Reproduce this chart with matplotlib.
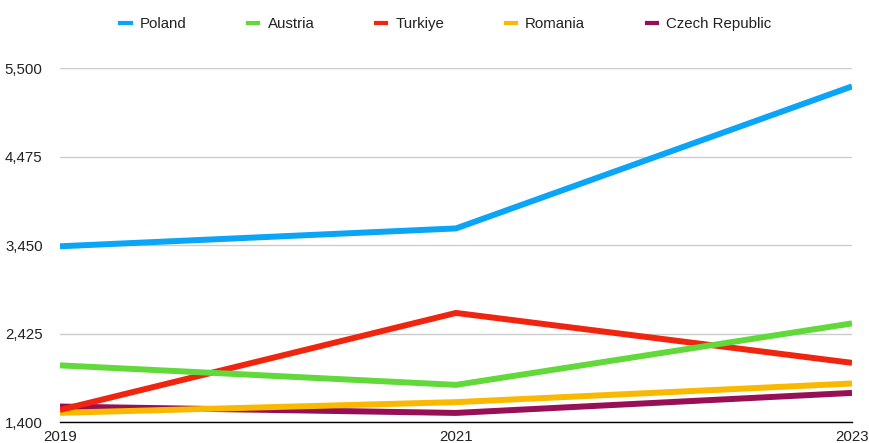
import matplotlib
matplotlib.use("Agg")
import matplotlib.pyplot as plt

plt.rcParams['font.family'] = ['Liberation Sans', 'DejaVu Sans']

years = [2019, 2021, 2023]
series_names = ["Poland", "Austria", "Turkiye", "Romania", "Czech Republic"]
poland = [3435, 3642, 5287]
austria = [2056, 1830, 2542]
turkiye = [1540, 2663, 2085]
romania = [1506, 1630, 1846]
czech = [1579, 1505, 1737]
yticks = [1400, 2425, 3450, 4475, 5500]

colors = ["#0aa5f7", "#62d93a", "#f0250f", "#f8b900", "#970f55"]
values = [poland, austria, turkiye, romania, czech]

fig = plt.figure(figsize=(8.69, 4.43), dpi=100)
ax = fig.add_axes([60 / 869, 1 - 422 / 443, (852 - 60) / 869, (422 - 68) / 443])

for i, (name, vals, c) in enumerate(zip(series_names, values, colors)):
    # first series drawn on top
    ax.plot(years, vals, color=c, lw=4.3, label=name, zorder=10 - i,
            solid_capstyle='butt', solid_joinstyle='miter')

ax.set_xlim(2019, 2023)
ax.set_ylim(1400, 5500)
ax.set_xticks(years)
ax.set_xticklabels([str(y) for y in years])
ax.set_yticks(yticks)
ax.set_yticklabels([f"{v:,}" for v in yticks])
ax.grid(axis='y', color='#cccccc', lw=1)
ax.set_axisbelow(True)
for s in ['top', 'right', 'left']:
    ax.spines[s].set_visible(False)
ax.spines['bottom'].set_color('black')
ax.spines['bottom'].set_linewidth(1)
ax.tick_params(axis='both', length=0, labelsize=10.8, colors='#222222')
ax.tick_params(axis='y', pad=12.5)
ax.tick_params(axis='x', pad=6)

leg_handles = [plt.Line2D([], [], color=c, lw=3) for c in colors]
fig.legend(leg_handles, series_names, loc='center', bbox_to_anchor=(0.513, 0.945),
           ncol=5, frameon=False, fontsize=10.8, handlelength=0.7,
           handletextpad=0.6, columnspacing=4.1, labelcolor='#222222')

fig.savefig("out.png", dpi=100)
